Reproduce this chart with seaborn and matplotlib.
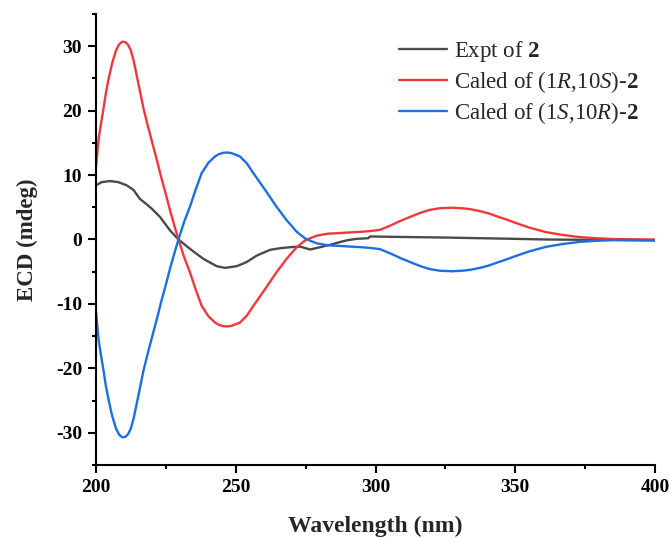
import numpy as np
import pandas as pd
import matplotlib
matplotlib.use("Agg")
import matplotlib.pyplot as plt
import seaborn as sns

# Experimental ECD of 2
expt_wl = [200, 202, 205, 208, 211, 213.4, 215.7, 218, 219.9, 222.9, 226.5, 229.5, 233.6, 238.4,
           243.2, 246.2, 250.3, 253.9, 257.5, 262.3, 266, 269.4, 273, 276.6, 280.1, 284, 287.3,
           290, 293.3, 297.4, 298, 305, 313.5, 325, 337.4, 350, 361, 375, 390, 400]
expt_val = [8.4, 8.9, 9.07, 8.9, 8.4, 7.7, 6.3, 5.5, 4.8, 3.5, 1.4, 0.0, -1.45, -3.0,
            -4.15, -4.4, -4.15, -3.5, -2.5, -1.6, -1.35, -1.2, -1.1, -1.55, -1.2, -0.8, -0.4,
            -0.1, 0.1, 0.2, 0.47, 0.42, 0.37, 0.3, 0.2, 0.1, 0.0, -0.05, -0.1, -0.12]

# Calculated ECD curves (wavelength grid shared by both enantiomers)
calc_wl = [200, 200.5, 201, 201.8, 202.6, 203.6, 204.7, 205.8, 207.2, 208.3, 209.2, 209.8,
           210.6, 211.5, 212.5, 213.5, 214.5, 215.7, 216.9, 218.5,
           220.2, 221.8, 223.3, 225, 226.5, 228, 229.5, 231.5, 233.6, 235.7, 237.8, 240.2,
           242.6, 244, 245.5, 247, 248.5, 250, 251.5, 254, 256.3, 260.5, 264.6, 268.2, 271.8, 275, 279,
           283, 287.3, 291, 295, 298, 301.6, 305, 309, 313.5, 316.5, 319.5, 323, 327.3,
           331, 334, 337.4, 340.5, 343.4, 346.5, 349.3, 355, 361, 367, 373, 379, 385, 392, 400]
# (1R,10S)-2
calc_r_val = [11.2, 13.6, 15.8, 18.0, 20.1, 22.9, 25.3, 27.4, 29.4, 30.3, 30.65, 30.7,
              30.6, 30.2, 29.3, 27.7, 25.6, 23.1, 20.5, 17.7,
              14.9, 12.3, 9.7, 7.0, 4.5, 2.2, 0.0, -2.7, -5.08, -7.8, -10.3, -11.9,
              -12.9, -13.25, -13.45, -13.5, -13.4, -13.15, -12.9, -11.8, -10.3, -7.7, -5.08, -3.0, -1.2, -0.1, 0.6,
              0.9, 1.0, 1.1, 1.2, 1.3, 1.5, 2.1, 2.9, 3.7, 4.2, 4.6, 4.85, 4.93,
              4.85, 4.7, 4.4, 4.05, 3.6, 3.15, 2.7, 1.85, 1.14, 0.7, 0.37, 0.2, 0.08, 0.03, 0.0]
# (1S,10R)-2
calc_s_val = [-11.2, -13.6, -15.8, -18.0, -20.1, -22.9, -25.3, -27.4, -29.4, -30.3, -30.65, -30.7,
              -30.6, -30.2, -29.3, -27.7, -25.6, -23.1, -20.5, -17.7,
              -14.9, -12.3, -9.7, -7.0, -4.5, -2.2, 0.0, 2.7, 5.08, 7.8, 10.3, 11.9,
              12.9, 13.25, 13.45, 13.5, 13.4, 13.15, 12.9, 11.8, 10.3, 7.7, 5.08, 3.0, 1.2, 0.1, -0.6,
              -0.9, -1.0, -1.1, -1.2, -1.3, -1.5, -2.1, -2.9, -3.7, -4.2, -4.6, -4.85, -4.93,
              -4.85, -4.7, -4.4, -4.05, -3.6, -3.15, -2.7, -1.85, -1.14, -0.7, -0.37, -0.2, -0.08, -0.1, -0.15]

labels = ["Expt of $\\mathbf{2}$",
          "Caled of (1$\\mathit{R}$,10$\\mathit{S}$)-$\\mathbf{2}$",
          "Caled of (1$\\mathit{S}$,10$\\mathit{R}$)-$\\mathbf{2}$"]
colors = ["#4a4a4a", "#f0383c", "#1c6fe0"]

x_ticks = [200, 250, 300, 350, 400]
y_ticks = [-30, -20, -10, 0, 10, 20, 30]

sns.set_theme(style="ticks")
plt.rcParams["font.family"] = ["Liberation Serif", "DejaVu Serif"]
plt.rcParams["mathtext.fontset"] = "custom"
plt.rcParams["mathtext.rm"] = "Liberation Serif"
plt.rcParams["mathtext.it"] = "Liberation Serif:italic"
plt.rcParams["mathtext.bf"] = "Liberation Serif:bold"

df = pd.concat([
    pd.DataFrame({"wl": expt_wl, "val": expt_val, "series": labels[0]}),
    pd.DataFrame({"wl": calc_wl, "val": calc_r_val, "series": labels[1]}),
    pd.DataFrame({"wl": calc_wl, "val": calc_s_val, "series": labels[2]}),
], ignore_index=True)

fig = plt.figure(figsize=(6.7, 5.38), dpi=100)
ax = fig.add_axes([0.1433, 0.1357, 0.8343, 0.8383])
sns.lineplot(data=df, x="wl", y="val", hue="series", hue_order=labels,
             palette=colors, linewidth=1.7, ax=ax, sort=False, estimator=None)

ax.set_xlim(200, 400)
ax.set_ylim(-35, 35)
ax.set_xticks(x_ticks)
ax.set_yticks(y_ticks)
ax.set_xticks([225, 275, 325, 375], minor=True)
ax.set_yticks([-35, -25, -15, -5, 5, 15, 25, 35], minor=True)
ax.set_xticklabels([str(t) for t in x_ticks], fontweight="bold", fontsize=14)
ax.set_yticklabels([str(t) for t in y_ticks], fontweight="bold", fontsize=14)
ax.tick_params(which="major", direction="out", length=6, width=1.5, colors="black", pad=4)
ax.tick_params(which="minor", direction="out", length=3, width=1.5, colors="black")
for s in ["top", "right"]:
    ax.spines[s].set_visible(False)
for s in ["left", "bottom"]:
    ax.spines[s].set_linewidth(1.5)
    ax.spines[s].set_color("black")

ax.set_xlabel("Wavelength (nm)", fontsize=17, fontweight="bold", labelpad=14)
ax.set_ylabel("ECD (mdeg)", fontsize=16.5, fontweight="bold", labelpad=13)

leg = ax.legend(loc="upper left", bbox_to_anchor=(0.525, 0.965), frameon=False,
                fontsize=16.5, handlelength=2.1, handletextpad=0.3, labelspacing=0.22,
                borderaxespad=0)
for line in leg.get_lines():
    line.set_linewidth(1.7)

fig.savefig("out.png", dpi=100)
